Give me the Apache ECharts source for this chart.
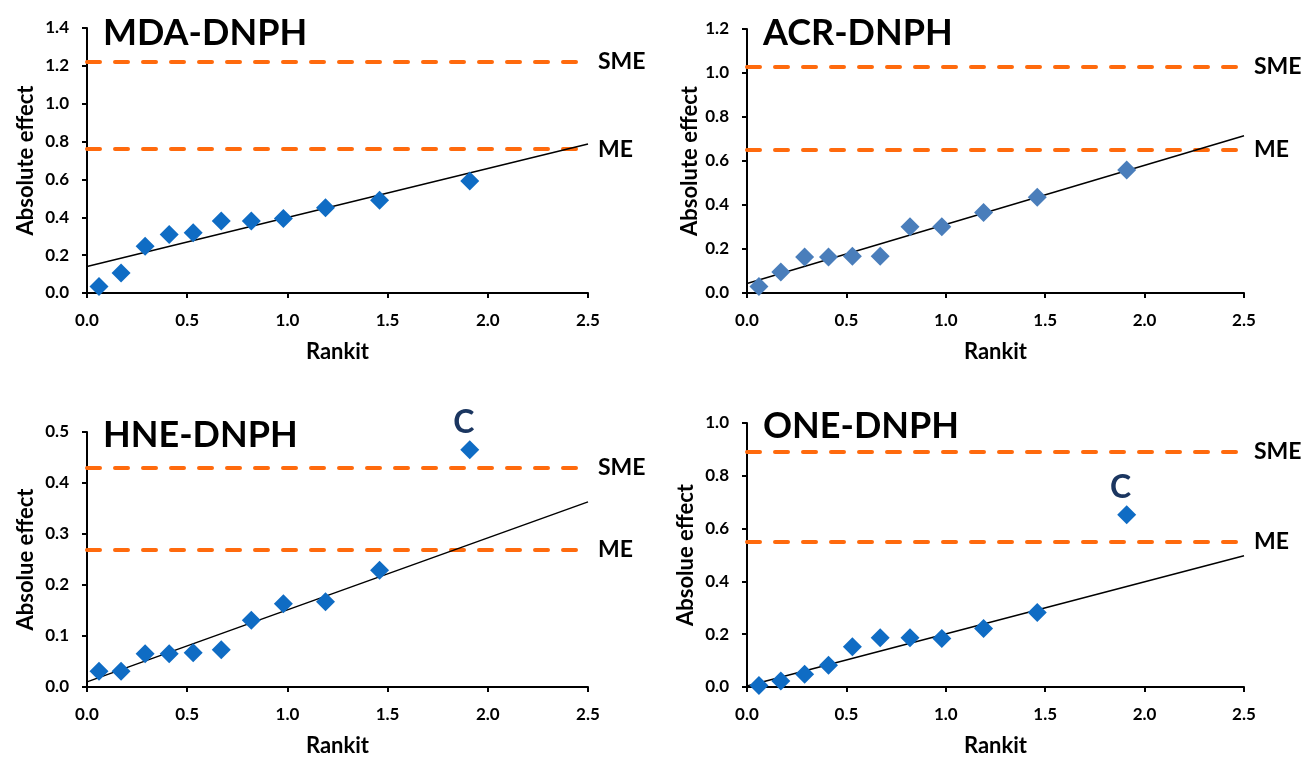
<!DOCTYPE html>
<html>
<head>
<meta charset="utf-8">
<script src="https://cdn.jsdelivr.net/npm/echarts@6/dist/echarts.min.js"></script>
<style>
  html, body { margin: 0; padding: 0; background: #fff; }
  #chart { width: 1305px; height: 759px; }
</style>
</head>
<body>
<div id="chart"></div>
<script>
// rankit (half-normal scores), shared by all four panels
var rankit = [0.06, 0.17, 0.29, 0.41, 0.53, 0.67, 0.82, 0.98, 1.19, 1.46, 1.91];

var titles = ['MDA-DNPH', 'ACR-DNPH', 'HNE-DNPH', 'ONE-DNPH'];
var yNames = ['Absolute effect', 'Absolute effect', 'Absolue effect', 'Absolue effect'];
var yMax = [1.4, 1.2, 0.5, 1.0];
var yStep = [0.2, 0.2, 0.1, 0.2];

// absolute effects
var mdaEffect = [0.035, 0.106, 0.247, 0.309, 0.318, 0.38, 0.38, 0.393, 0.451, 0.49, 0.592];
var acrEffect = [0.03, 0.096, 0.164, 0.164, 0.167, 0.167, 0.301, 0.301, 0.366, 0.435, 0.559];
var hneEffect = [0.031, 0.031, 0.065, 0.065, 0.067, 0.073, 0.131, 0.163, 0.167, 0.229, 0.465];
var oneEffect = [0.006, 0.023, 0.048, 0.082, 0.152, 0.187, 0.187, 0.184, 0.222, 0.282, 0.652];
var effects = [mdaEffect, acrEffect, hneEffect, oneEffect];

// which point gets the "C" label (-1 = none)
var cIndex = [-1, -1, 10, 10];

// reference lines
var smeValue = [1.22, 1.033, 0.427, 0.891];
var meValue = [0.76, 0.646, 0.267, 0.553];

// trendline at rankit 0 and 2.5
var trendStart = [0.14, 0.043, 0.01, 0.004];
var trendEnd = [0.787, 0.715, 0.363, 0.497];

var markerColor = ['#0F6CC4', '#4A7EBB', '#0F6CC4', '#0F6CC4'];

var grids = [
  { left: 87, top: 28, width: 501, height: 265 },
  { left: 747, top: 29, width: 497, height: 264 },
  { left: 87, top: 432, width: 501, height: 255 },
  { left: 747, top: 423, width: 497, height: 264 }
];
var titlePos = [[98, 10], [758, 10], [98, 412], [758, 403]];
var yNameGap = [50, 44, 50, 50];

var font = 'Lato, "Open Sans", sans-serif';
var fmt1 = function (v) { return v.toFixed(1); };

var option = {
  animation: false,
  backgroundColor: '#fff',
  textStyle: { fontFamily: font },
  title: [], grid: grids, xAxis: [], yAxis: [], series: []
};

for (var i = 0; i < 4; i++) {
  option.title.push({
    text: titles[i], left: titlePos[i][0], top: titlePos[i][1],
    textStyle: { fontFamily: font, fontSize: 36, fontWeight: 'bold', color: '#000' }
  });
  option.xAxis.push({
    gridIndex: i, type: 'value', min: 0, max: 2.5, interval: 0.5,
    name: 'Rankit', nameLocation: 'middle', nameGap: 48,
    nameTextStyle: { fontFamily: font, fontSize: 22, fontWeight: 'bold', color: '#000' },
    axisLine: { onZero: false, lineStyle: { color: '#000', width: 2 } },
    axisTick: { show: true, length: 5, lineStyle: { color: '#000', width: 2 } },
    axisLabel: { formatter: fmt1, margin: 19, fontFamily: font, fontSize: 17, fontWeight: 'bold', color: '#000' },
    splitLine: { show: false }
  });
  option.yAxis.push({
    gridIndex: i, type: 'value', min: 0, max: yMax[i], interval: yStep[i],
    name: yNames[i], nameLocation: 'middle', nameGap: yNameGap[i], nameRotate: 90,
    nameTextStyle: { fontFamily: font, fontSize: 22, fontWeight: 'bold', color: '#000' },
    axisLine: { show: true, onZero: false, lineStyle: { color: '#000', width: 2 } },
    axisTick: { show: true, length: 5, lineStyle: { color: '#000', width: 2 } },
    axisLabel: { formatter: fmt1, margin: 18, fontFamily: font, fontSize: 17, fontWeight: 'bold', color: '#000' },
    splitLine: { show: false }
  });

  var pts = [];
  for (var k = 0; k < rankit.length; k++) {
    var item = { value: [rankit[k], effects[i][k]] };
    if (k === cIndex[i]) {
      item.label = {
        show: true, formatter: 'C', position: 'top', distance: 2, offset: [-6, 0],
        fontFamily: font, fontSize: 32, fontWeight: 'bold', color: '#1B3660'
      };
    }
    pts.push(item);
  }

  var refLabel = { show: true, position: 'end', distance: 10, fontFamily: font, fontSize: 23, fontWeight: 'bold', color: '#000' };
  option.series.push({
    type: 'line', xAxisIndex: i, yAxisIndex: i, showSymbol: false, silent: true,
    data: [[0, trendStart[i]], [2.5, trendEnd[i]]],
    lineStyle: { color: '#000', width: 1.5 }, z: 3,
    markLine: {
      silent: true, symbol: 'none', z: 2,
      lineStyle: { color: '#FF6A0D', width: 4, type: [13, 15], cap: 'round' },
      data: [
        { yAxis: smeValue[i], label: Object.assign({ formatter: 'SME' }, refLabel) },
        { yAxis: meValue[i], label: Object.assign({ formatter: 'ME' }, refLabel) }
      ]
    }
  });
  option.series.push({
    type: 'scatter', xAxisIndex: i, yAxisIndex: i, symbol: 'diamond', symbolSize: 19,
    itemStyle: { color: markerColor[i], opacity: 1 }, data: pts, z: 4
  });
}

var chart = echarts.init(document.getElementById('chart'));
chart.setOption(option);
window.onresize = function () { chart.resize(); };
</script>
</body>
</html>
